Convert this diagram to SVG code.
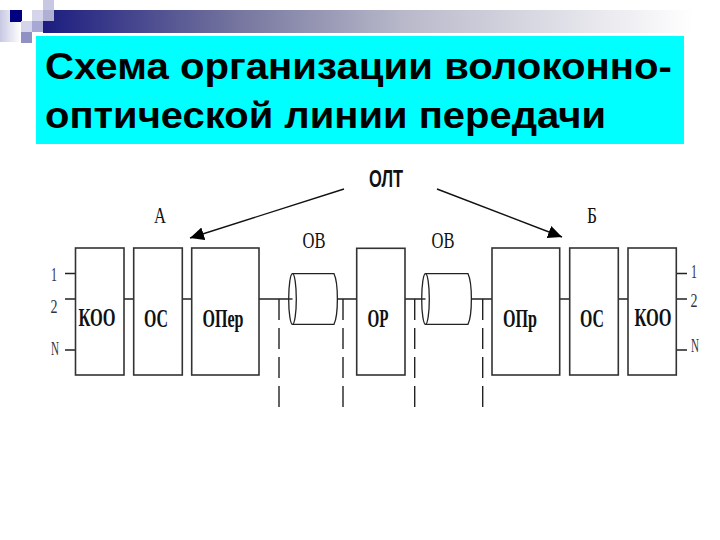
<svg xmlns="http://www.w3.org/2000/svg" width="720" height="540" viewBox="0 0 720 540">
<style>
.box{fill:#fff;stroke:#333;stroke-width:1.6}
.ln{fill:none;stroke:#222;stroke-width:1.4}
.cyl{fill:#fff;stroke:#222;stroke-width:1.3}
.dash{fill:none;stroke:#222;stroke-width:1.4;stroke-dasharray:21 8}
.arr{fill:none;stroke:#111;stroke-width:1.4;marker-end:url(#ah)}
.t{font-family:"Liberation Serif",serif;fill:#111}
.b{font-weight:bold;font-size:26px}
.m{font-size:23px}
.s{font-size:18px;fill:#333}
.title{font-family:"Liberation Sans",sans-serif;font-weight:bold;font-size:36.500px;fill:#000}
</style>
<defs>
<linearGradient id="bar" x1="0" x2="1" y1="0" y2="0"><stop offset="0" stop-color="#1c1c80"/><stop offset="0.290" stop-color="#76769f"/><stop offset="0.530" stop-color="#b8b8ca"/><stop offset="0.960" stop-color="#ffffff"/></linearGradient>
<linearGradient id="side" x1="0" x2="1" y1="0" y2="0"><stop offset="0" stop-color="#c8c8e4"/><stop offset="1" stop-color="#ffffff"/></linearGradient>
<marker id="ah" markerUnits="userSpaceOnUse" markerWidth="16" markerHeight="14" refX="14" refY="7" orient="auto"><path d="M0,0.500L14,7L0,13.500Z" fill="#000"/></marker>
</defs>
<rect width="720" height="540" fill="#fff"/>
<g id="decor">
<rect x="43" y="10" width="677" height="23" fill="url(#bar)"/>
<rect x="0" y="10" width="21" height="32" fill="url(#side)"/>
<rect x="10" y="10" width="12" height="12" fill="#000080"/>
<rect x="43" y="0" width="11" height="10" fill="#c8c8e2"/>
<rect x="32" y="10" width="11" height="11" fill="#d4d4ea"/>
<rect x="43" y="10" width="11" height="11" fill="#b0b0d4"/>
<rect x="21" y="21" width="11" height="11" fill="#d4d4ea"/>
<rect x="32" y="21" width="11" height="11" fill="#a8a8d4"/>
<rect x="21" y="32" width="11" height="11" fill="#9090c4"/>
</g>
<g id="title">
<rect x="34.500" y="34.500" width="651" height="111" fill="#00ffff" stroke="#fff" stroke-width="3"/>
<text class="title" x="45" y="79" textLength="627" lengthAdjust="spacingAndGlyphs">Схема организации волоконно-</text>
<text class="title" x="45" y="127.500" textLength="561" lengthAdjust="spacingAndGlyphs">оптической линии передачи</text>
</g>
<g id="connectors">
<path class="ln" d="M65,273.500H75.500M65,299H75.500M65,350H75.500M124,299H134M182,299H192M259,299H292M336,299H357M405,299H426M470,299H492M560,299H570M618,299H628M676,273.500H687M676,299H687M676,350H687"/>
<path class="dash" d="M279,299V408M343,299V408M414.700,299V408M482.700,299V408"/>
<path class="arr" d="M344,189L190,238"/>
<path class="arr" d="M437,189L562,237"/>
</g>
<g id="koo-a"><rect class="box" x="75.500" y="248" width="48.500" height="127"/><text class="t b" x="97" y="326" text-anchor="middle" textLength="37" lengthAdjust="spacingAndGlyphs">КОО</text></g>
<g id="os-a"><rect class="box" x="133.700" y="248" width="48.600" height="127"/><text class="t b" x="156" y="327" text-anchor="middle" textLength="24" lengthAdjust="spacingAndGlyphs">ОС</text></g>
<g id="oper"><rect class="box" x="191.700" y="248" width="67.300" height="127"/><text class="t b" x="223" y="327" text-anchor="middle" textLength="41" lengthAdjust="spacingAndGlyphs">ОПер</text></g>
<g id="cyl-1">
<path class="cyl" d="M292.500,273.700H334C338.500,283 338.500,315 334,324.300H292.500Z"/>
<ellipse class="cyl" cx="292.500" cy="299" rx="3.800" ry="25.300"/>
<path class="ln" d="M288.700,299H292.500"/>
</g>
<g id="or"><rect class="box" x="356.700" y="248.300" width="48.300" height="126.700"/><text class="t b" x="378" y="327" text-anchor="middle" textLength="21" lengthAdjust="spacingAndGlyphs">ОР</text></g>
<g id="cyl-2">
<path class="cyl" d="M425.500,273.700H468C472.500,283 472.500,315 468,324.300H425.500Z"/>
<ellipse class="cyl" cx="425.500" cy="299" rx="3.800" ry="25.300"/>
<path class="ln" d="M421.700,299H425.500"/>
</g>
<g id="opr"><rect class="box" x="492" y="248" width="67.700" height="127"/><text class="t b" x="520" y="327" text-anchor="middle" textLength="34" lengthAdjust="spacingAndGlyphs">ОПр</text></g>
<g id="os-b"><rect class="box" x="569.700" y="248" width="48.600" height="127"/><text class="t b" x="592" y="327" text-anchor="middle" textLength="24" lengthAdjust="spacingAndGlyphs">ОС</text></g>
<g id="koo-b"><rect class="box" x="628" y="248" width="48.300" height="127"/><text class="t b" x="653" y="326" text-anchor="middle" textLength="37" lengthAdjust="spacingAndGlyphs">КОО</text></g>
<g id="labels">
<text x="386" y="187" text-anchor="middle" font-family="'Liberation Sans',sans-serif" font-weight="bold" font-size="24" fill="#111" textLength="34" lengthAdjust="spacingAndGlyphs">ОЛТ</text>
<text class="t m" x="160" y="223" text-anchor="middle" textLength="12" lengthAdjust="spacingAndGlyphs">А</text>
<text class="t m" x="592" y="223" text-anchor="middle" textLength="10" lengthAdjust="spacingAndGlyphs">Б</text>
<text class="t m" x="314" y="248" text-anchor="middle" textLength="23" lengthAdjust="spacingAndGlyphs">ОВ</text>
<text class="t m" x="443" y="248" text-anchor="middle" textLength="23" lengthAdjust="spacingAndGlyphs">ОВ</text>
<text class="t s" x="54" y="281" text-anchor="middle" textLength="6" lengthAdjust="spacingAndGlyphs">1</text>
<text class="t s" x="54" y="313" text-anchor="middle" textLength="7" lengthAdjust="spacingAndGlyphs">2</text>
<text class="t s" x="55" y="355" text-anchor="middle" textLength="8" lengthAdjust="spacingAndGlyphs">N</text>
<text class="t s" x="694" y="278" text-anchor="middle" textLength="6" lengthAdjust="spacingAndGlyphs">1</text>
<text class="t s" x="694" y="307" text-anchor="middle" textLength="7" lengthAdjust="spacingAndGlyphs">2</text>
<text class="t s" x="695" y="352" text-anchor="middle" textLength="8" lengthAdjust="spacingAndGlyphs">N</text>
</g>
</svg>
